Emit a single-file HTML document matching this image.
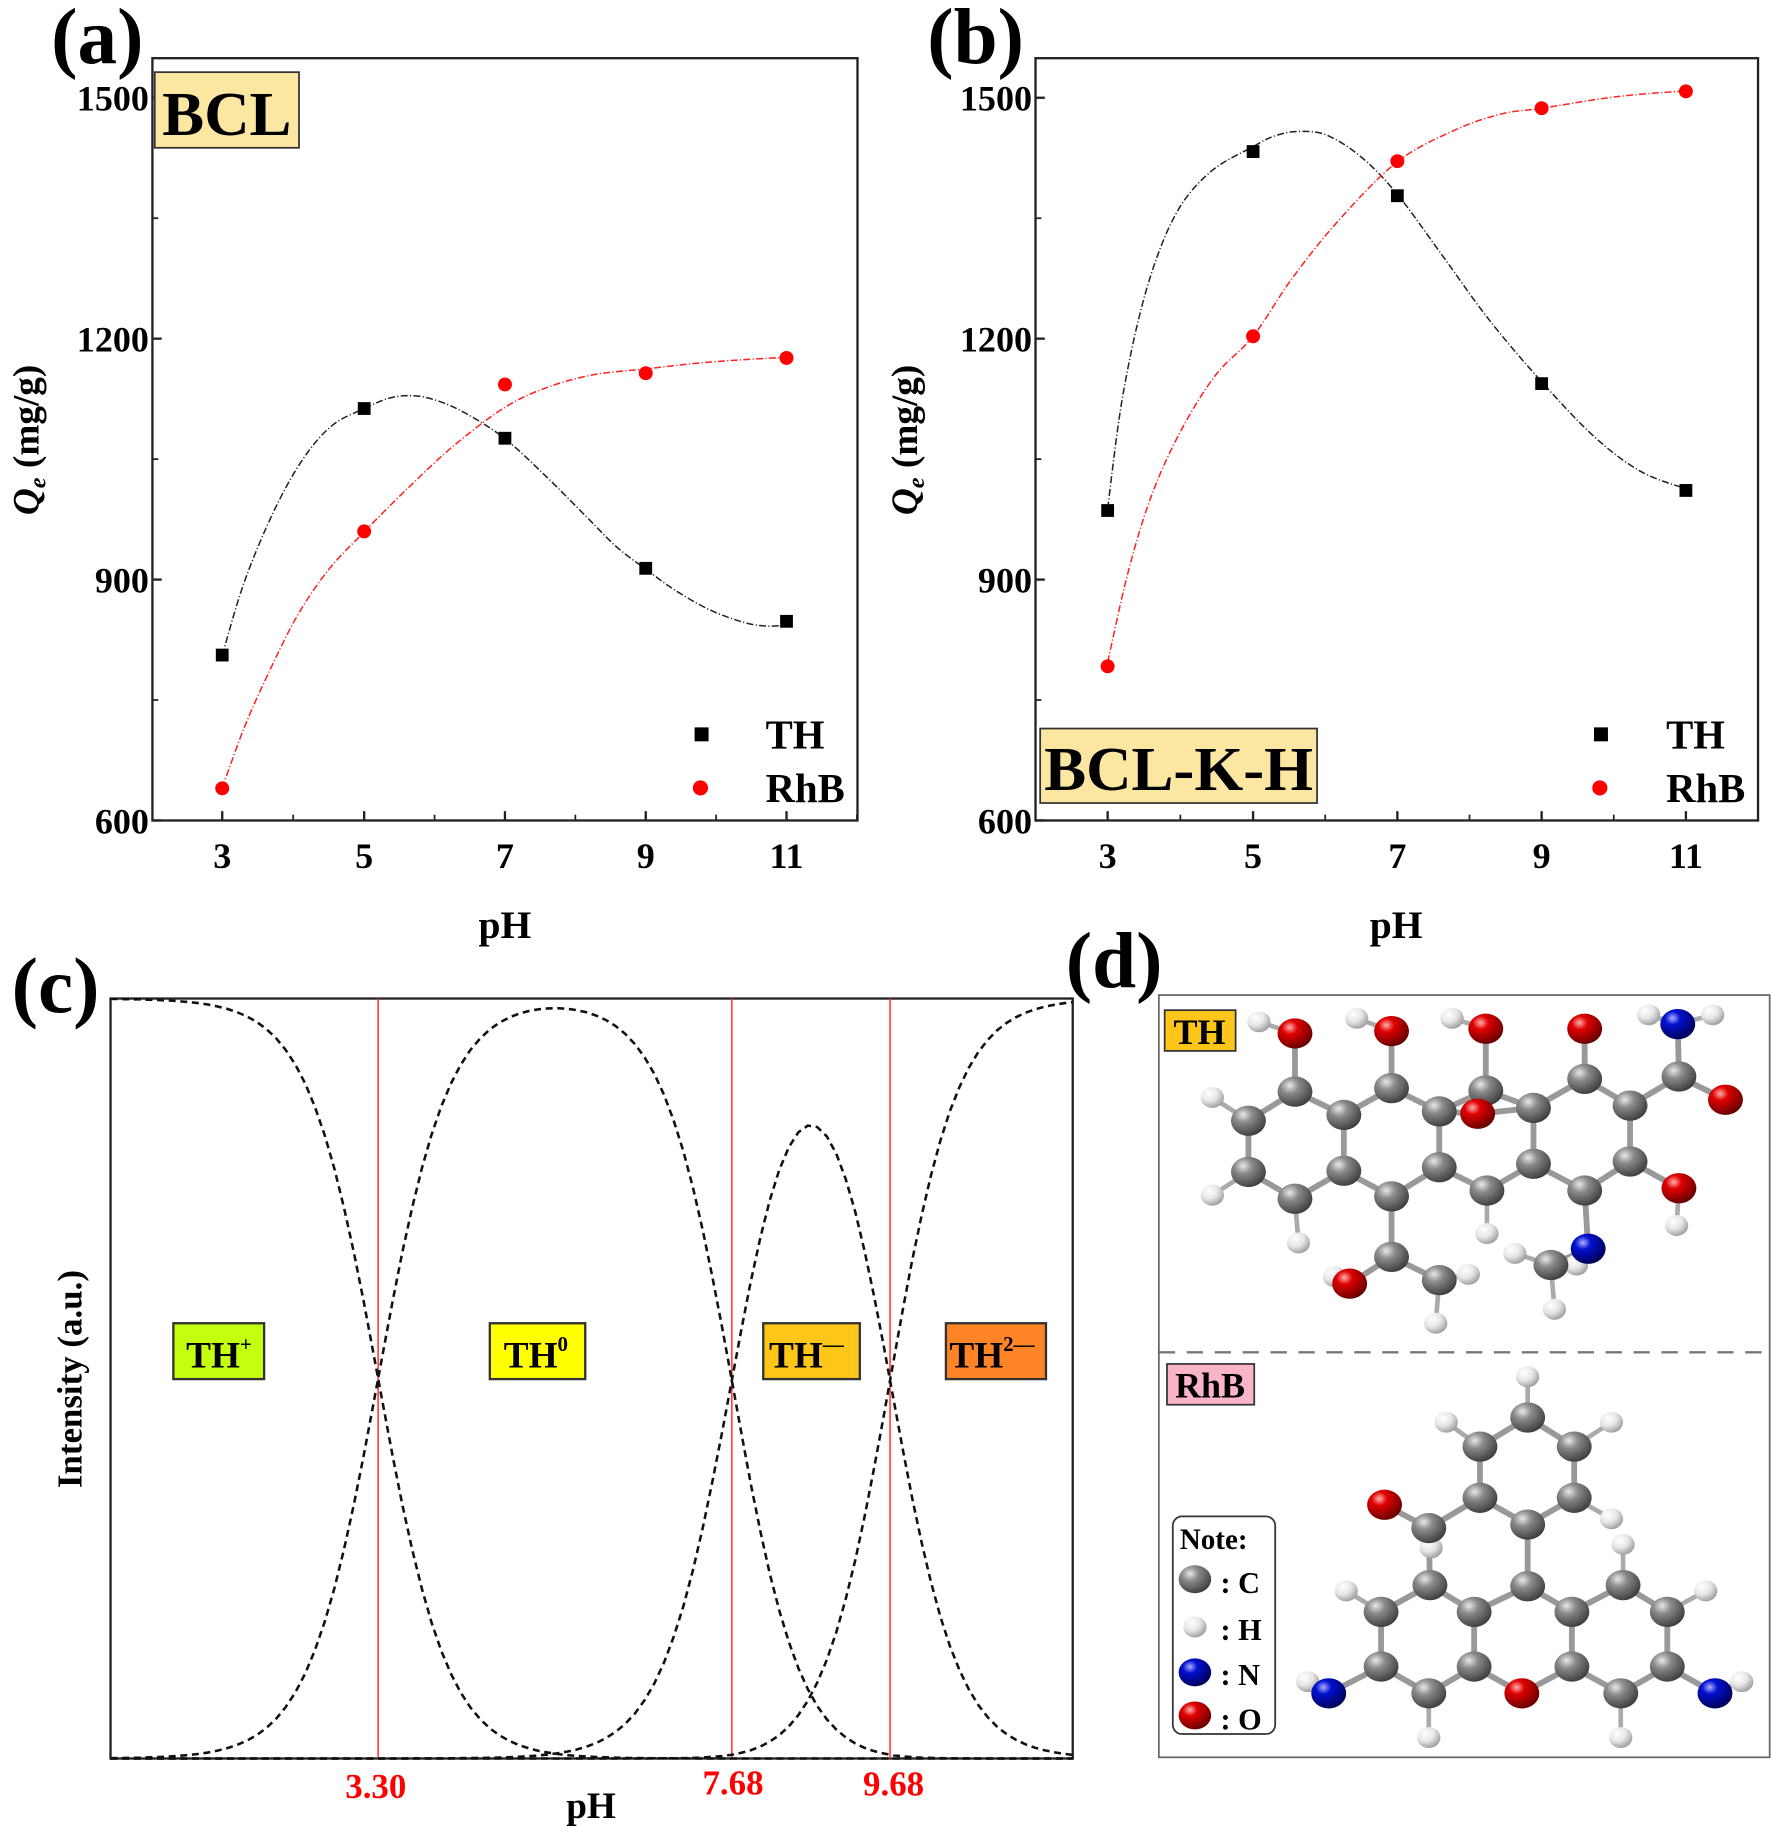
<!DOCTYPE html>
<html><head><meta charset="utf-8"><style>
html,body{margin:0;padding:0;background:#fff;}
svg{display:block;}
text{font-family:"Liberation Serif",serif;font-weight:bold;}
</style></head><body>
<svg id="s" width="1772" height="1826" viewBox="0 0 1523 1569" preserveAspectRatio="none" xmlns="http://www.w3.org/2000/svg">
<defs>
<radialGradient id="gC" cx="0.35" cy="0.3" r="0.75"><stop offset="0" stop-color="#e8e8e8"/><stop offset="0.35" stop-color="#8a8a8a"/><stop offset="1" stop-color="#3a3a3a"/></radialGradient>
<radialGradient id="gH" cx="0.35" cy="0.3" r="0.75"><stop offset="0" stop-color="#ffffff"/><stop offset="0.5" stop-color="#e6e6e6"/><stop offset="1" stop-color="#9a9a9a"/></radialGradient>
<radialGradient id="gO" cx="0.35" cy="0.3" r="0.75"><stop offset="0" stop-color="#ffb0b0"/><stop offset="0.3" stop-color="#e00000"/><stop offset="1" stop-color="#600000"/></radialGradient>
<radialGradient id="gN" cx="0.35" cy="0.3" r="0.75"><stop offset="0" stop-color="#b0b0ff"/><stop offset="0.3" stop-color="#0010d0"/><stop offset="1" stop-color="#000050"/></radialGradient>
</defs>
<text x="44" y="54" font-size="68">(a)</text>
<text x="797" y="54" font-size="68">(b)</text>
<text x="10" y="870" font-size="68">(c)</text>
<text x="916" y="848" font-size="68">(d)</text>

<rect x="131" y="50" width="606" height="655" fill="none" stroke="#222" stroke-width="2"/>
<rect x="890" y="50" width="621" height="655" fill="none" stroke="#222" stroke-width="2"/>
<g id="axes"></g>
<rect x="133" y="62" width="124" height="65" fill="#fbe6a2" stroke="#333" stroke-width="1.5"/>
<text x="195" y="116" font-size="54" text-anchor="middle">BCL</text>
<rect x="894" y="626" width="238" height="64" fill="#fbe6a2" stroke="#333" stroke-width="1.5"/>
<text x="1013" y="679" font-size="54" text-anchor="middle">BCL-K-H</text>
<text transform="translate(33,378) rotate(-90)" font-size="32" text-anchor="middle"><tspan font-style="italic">Q</tspan><tspan font-style="italic" font-size="21" dy="6">e</tspan><tspan dy="-6"> (mg/g)</tspan></text>
<text transform="translate(788,378) rotate(-90)" font-size="32" text-anchor="middle"><tspan font-style="italic">Q</tspan><tspan font-style="italic" font-size="21" dy="6">e</tspan><tspan dy="-6"> (mg/g)</tspan></text>
<text x="434" y="806" font-size="34" text-anchor="middle">pH</text>
<text x="1200" y="806" font-size="34" text-anchor="middle">pH</text>
<rect x="597" y="625" width="12" height="12" fill="#000"/><text x="658" y="643" font-size="35">TH</text>
<circle cx="602" cy="677" r="6.5" fill="#f00"/><text x="658" y="689" font-size="35">RhB</text>
<rect x="1370" y="625" width="12" height="12" fill="#000"/><text x="1432" y="643" font-size="35">TH</text>
<circle cx="1375" cy="677" r="6.5" fill="#f00"/><text x="1432" y="689" font-size="35">RhB</text>
<g id="curves"></g>

<rect x="95" y="858" width="827" height="653" fill="none" stroke="#222" stroke-width="2"/>
<line x1="325" y1="858" x2="325" y2="1511" stroke="#f33" stroke-width="1.3"/>
<line x1="629" y1="858" x2="629" y2="1511" stroke="#f33" stroke-width="1.3"/>
<line x1="765" y1="858" x2="765" y2="1511" stroke="#f33" stroke-width="1.3"/>
<g id="spec"></g>
<text x="323" y="1545" font-size="30" fill="#f00" text-anchor="middle">3.30</text>
<text x="630" y="1542" font-size="30" fill="#f00" text-anchor="middle">7.68</text>
<text x="768" y="1543" font-size="30" fill="#f00" text-anchor="middle">9.68</text>
<text x="508" y="1562" font-size="32" text-anchor="middle">pH</text>
<text transform="translate(70,1185) rotate(-90)" font-size="30" text-anchor="middle">Intensity (a.u.)</text>
<rect x="149" y="1137" width="78" height="48" fill="#c4ff0e" stroke="#333" stroke-width="2"/>
<text x="160" y="1175" font-size="32">TH<tspan font-size="18" dy="-14">+</tspan></text>
<rect x="421" y="1137" width="82" height="48" fill="#ffff00" stroke="#333" stroke-width="2"/>
<text x="433" y="1175" font-size="32">TH<tspan font-size="18" dy="-14">0</tspan></text>
<rect x="656" y="1137" width="83" height="48" fill="#ffc61a" stroke="#333" stroke-width="2"/>
<text x="661" y="1175" font-size="32">TH<tspan font-size="18" dy="-14">—</tspan></text>
<rect x="813" y="1137" width="86" height="48" fill="#ff8426" stroke="#333" stroke-width="2"/>
<text x="816" y="1175" font-size="32">TH<tspan font-size="18" dy="-14">2—</tspan></text>

<line x1="996" y1="1162" x2="1521" y2="1162" stroke="#777" stroke-width="2" stroke-dasharray="14,10"/>
<rect x="996" y="855" width="525" height="655" fill="none" stroke="#666" stroke-width="1.5"/>
<g id="mol"></g>
<rect x="1001" y="868" width="61" height="35" fill="#ffc61a" stroke="#333" stroke-width="1.5"/>
<text x="1031" y="897" font-size="31" text-anchor="middle">TH</text>
<rect x="1003" y="1172" width="75" height="35" fill="#f9b4c8" stroke="#333" stroke-width="1.5"/>
<text x="1040" y="1201" font-size="31" text-anchor="middle">RhB</text>
<rect x="1008" y="1303" width="88" height="187" rx="8" fill="#fff" stroke="#333" stroke-width="1.5"/>
<text x="1014" y="1331" font-size="25">Note:</text>
<ellipse cx="1027" cy="1357" rx="14" ry="12" fill="url(#gC)"/><text x="1049" y="1369" font-size="26">: C</text>
<ellipse cx="1027" cy="1398" rx="10" ry="9" fill="url(#gH)"/><text x="1049" y="1409" font-size="26">: H</text>
<ellipse cx="1027" cy="1437" rx="14" ry="12" fill="url(#gN)"/><text x="1049" y="1448" font-size="26">: N</text>
<ellipse cx="1027" cy="1474" rx="14" ry="12" fill="url(#gO)"/><text x="1049" y="1486" font-size="26">: O</text>
</svg>
<script>
var NS="http://www.w3.org/2000/svg";
function el(p,t,a,txt){var e=document.createElementNS(NS,t);for(var k in a)e.setAttribute(k,a[k]);if(txt!=null)e.textContent=txt;document.getElementById(p).appendChild(e);return e;}
function yv(v){return 705-(v-600)*0.69;}
[[131,191,313,434,555,676],[890,952,1077,1201,1325,1449]].forEach(function(p,i){
 var L=p[0],xs=p.slice(1),lab=["3","5","7","9","11"];
 xs.forEach(function(x,j){el("axes","line",{x1:x,y1:705,x2:x,y2:697,stroke:"#222","stroke-width":2});
  el("axes","text",{x:x,y:746,"font-size":31,"text-anchor":"middle"},lab[j]);
  if(j<4){var m=(x+xs[j+1])/2;el("axes","line",{x1:m,y1:705,x2:m,y2:700,stroke:"#222","stroke-width":1.5});}
 });
 var m0=xs[4]+(xs[4]-xs[3])/2;el("axes","line",{x1:m0,y1:705,x2:m0,y2:700,stroke:"#222","stroke-width":1.5});
 [600,750,900,1050,1200,1350,1500].forEach(function(v){var y=yv(v),maj=(v%300==0);
  el("axes","line",{x1:L,y1:y,x2:L+(maj?8:5),y2:y,stroke:"#222","stroke-width":maj?2:1.5});
  if(maj)el("axes","text",{x:L-3,y:y+11,"font-size":31,"text-anchor":"end"},String(v));});
});
function cr(pts){var d="M"+pts[0][0]+","+pts[0][1];for(var i=0;i<pts.length-1;i++){var p0=pts[Math.max(i-1,0)],p1=pts[i],p2=pts[i+1],p3=pts[Math.min(i+2,pts.length-1)];
 d+=" C"+(p1[0]+(p2[0]-p0[0])/6)+","+(p1[1]+(p2[1]-p0[1])/6)+" "+(p2[0]-(p3[0]-p1[0])/6)+","+(p2[1]-(p3[1]-p1[1])/6)+" "+p2[0]+","+p2[1];}return d;}
var curves=[
 {c:"#222",p:[[191,563],[210,500],[235,440],[260,395],[285,366],[313,351],[335,342],[355,340],[375,344],[400,355],[434,377],[470,410],[505,445],[530,470],[555,489],[580,507],[610,524],[640,535],[660,538],[676,537]]},
 {c:"#f22",p:[[191,677],[210,625],[230,580],[255,530],[282,490],[313,457],[350,420],[390,383],[434,350],[470,333],[510,322],[555,317],[600,312],[640,309],[676,307]]},
 {c:"#222",p:[[952,437],[965,340],[985,250],[1010,185],[1040,148],[1077,126],[1095,117],[1115,113],[1140,116],[1170,135],[1201,167],[1240,220],[1280,275],[1325,328],[1370,375],[1410,405],[1449,420]]},
 {c:"#f22",p:[[952,569],[970,490],[990,425],[1015,370],[1045,322],[1077,289],[1110,240],[1150,190],[1201,139],[1250,112],[1290,98],[1325,93],[1390,83],[1449,78]]}];
curves.forEach(function(c){el("curves","path",{d:cr(c.p),fill:"none",stroke:c.c,"stroke-width":1.3,"stroke-dasharray":"6,2,1,2"});});
[[191,806],[313,1113],[434,1076],[555,914],[676,848],[952,986],[1077,1433],[1201,1378],[1325,1144],[1449,1011]].forEach(function(p){var y=yv(p[1]);el("curves","rect",{x:p[0]-5.5,y:y-5.5,width:11,height:11,fill:"#000"});});
[[191,640],[313,960],[434,1143],[555,1157],[676,1176],[952,792],[1077,1203],[1201,1421],[1325,1487],[1449,1508]].forEach(function(p){el("curves","circle",{cx:p[0],cy:yv(p[1]),r:6,fill:"#f00"});});
var pk=[3.30,7.68,9.68];
function xp(ph){if(ph<=3.3)return 95+ph*(230/3.3);if(ph<=7.68)return 325+(ph-3.3)*(304/4.38);if(ph<=9.68)return 629+(ph-7.68)*68;return 765+(ph-9.68)*(157/2.32);}
var paths=[[],[],[],[]];
for(var ph=0;ph<=12.001;ph+=0.12){var h=Math.pow(10,-ph),K1=Math.pow(10,-pk[0]),K2=Math.pow(10,-pk[1]),K3=Math.pow(10,-pk[2]);
 var t=[h*h*h,h*h*K1,h*K1*K2,K1*K2*K3],s=t[0]+t[1]+t[2]+t[3];
 for(var k=0;k<4;k++)paths[k].push([xp(ph).toFixed(1),(1511-653*t[k]/s).toFixed(1)]);}
paths.forEach(function(p){el("spec","path",{d:"M"+p.map(function(q){return q.join(",");}).join(" L"),fill:"none",stroke:"#111","stroke-width":2.2,"stroke-dasharray":"6,4"});});
function mol(C,O,N,H){var heavy=C.map(function(a){return[a[0],a[1],"C"];}).concat(O.map(function(a){return[a[0],a[1],"O"];}),N.map(function(a){return[a[0],a[1],"N"];}));
 for(var i=0;i<heavy.length;i++)for(var j=i+1;j<heavy.length;j++){var dx=heavy[i][0]-heavy[j][0],dy=heavy[i][1]-heavy[j][1];if(Math.sqrt(dx*dx+dy*dy)<56)el("mol","line",{x1:heavy[i][0],y1:heavy[i][1],x2:heavy[j][0],y2:heavy[j][1],stroke:"#999","stroke-width":5});}
 H.forEach(function(h){var b=null,bd=1e9;heavy.forEach(function(a){var d=Math.hypot(a[0]-h[0],a[1]-h[1]);if(d<bd){bd=d;b=a;}});el("mol","line",{x1:h[0],y1:h[1],x2:b[0],y2:b[1],stroke:"#aaa","stroke-width":4});});
 H.forEach(function(h){el("mol","ellipse",{cx:h[0],cy:h[1],rx:10,ry:9,fill:"url(#gH)"});});
 heavy.forEach(function(a){el("mol","ellipse",{cx:a[0],cy:a[1],rx:15,ry:13,fill:"url(#g"+a[2]+")"});});}
mol([[1073,963],[1113,938],[1155,958],[1196,935],[1237,955],[1277,937],[1318,952],[1362,927],[1401,950],[1443,925],[1073,1007],[1113,1030],[1155,1006],[1196,1028],[1237,1003],[1278,1023],[1318,1000],[1362,1023],[1401,998],[1196,1080],[1237,1100],[1333,1087]],
 [[1113,888],[1196,886],[1277,884],[1362,884],[1483,945],[1270,957],[1443,1021],[1160,1103]],
 [[1442,880],[1365,1073]],
 [[1082,878],[1166,875],[1248,875],[1417,872],[1472,872],[1042,943],[1042,1027],[1116,1068],[1278,1060],[1441,1053],[1147,1097],[1262,1095],[1234,1137],[1302,1077],[1336,1125],[1355,1087]]);
mol([[1313,1218],[1272,1243],[1353,1243],[1272,1287],[1353,1287],[1313,1310],[1228,1313],[1313,1363],[1267,1385],[1351,1385],[1229,1362],[1395,1362],[1187,1385],[1433,1385],[1187,1432],[1433,1432],[1267,1432],[1351,1432],[1228,1455],[1393,1455]],
 [[1190,1293],[1308,1455]],
 [[1142,1455],[1474,1455]],
 [[1313,1183],[1243,1222],[1385,1222],[1385,1305],[1395,1327],[1157,1367],[1466,1367],[1228,1493],[1393,1493],[1124,1445],[1497,1445],[1230,1330]]);
</script>
</body></html>
